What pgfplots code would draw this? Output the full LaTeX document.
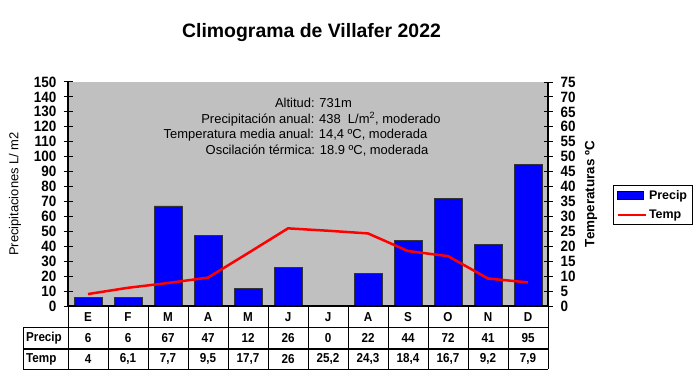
\documentclass[border=0pt]{standalone}
\usepackage{fontspec}
\setmainfont{Liberation Sans}
\newfontfamily\narrow[FakeStretch=0.9]{Liberation Sans}
\usepackage{pgfplots}
\pgfplotsset{compat=1.18}
\definecolor{bggray}{RGB}{192,192,192}
\begin{document}
\begin{tikzpicture}[x=1bp,y=1bp]
\useasboundingbox (0,0) rectangle (700,386);
\begin{axis}[
  at={(68bp,80bp)}, anchor=south west,
  scale only axis, width=480bp, height=224bp,
  xmin=-0.5, xmax=11.5, ymin=0, ymax=150,
  axis y line*=left, axis x line*=bottom,
  xtick=\empty,
  ytick={0,10,...,150},
  tick align=center, major tick length=9bp,
  every tick/.style={black, line width=1bp},
  axis line style={black, line width=1.2bp},
  axis background/.style={fill=bggray},
  /pgf/number format/assume math mode=true,
  yticklabel style={font=\narrow\fontsize{15}{15}\selectfont\bfseries, inner sep=0pt, xshift=-7bp},
  ylabel={Precipitaciones L/ m2},
  every axis y label/.style={at={(axis description cs:0,0.5)}, xshift=-53bp, rotate=90, anchor=center, font=\fontsize{13}{13}\selectfont},
  clip=false,
]
\addplot[ybar, bar width=0.7, fill=blue, draw=black!80, line width=0.8bp] coordinates {(0,6)(1,6)(2,67)(3,47)(4,12)(5,26)(6,0)(7,22)(8,44)(9,72)(10,41)(11,95)};
\end{axis}
\begin{axis}[
  at={(68bp,80bp)}, anchor=south west,
  scale only axis, width=480bp, height=224bp,
  xmin=-0.5, xmax=11.5, ymin=0, ymax=75,
  axis y line*=right, axis x line=none,
  ytick={0,5,...,75},
  tick align=center, major tick length=9bp,
  every tick/.style={black, line width=1bp},
  axis line style={black, line width=1.2bp},
  /pgf/number format/assume math mode=true,
  yticklabel style={font=\narrow\fontsize{15}{15}\selectfont\bfseries, inner sep=0pt, xshift=8bp},
  ylabel={Temperaturas ºC},
  every axis y label/.style={at={(axis description cs:1,0.5)}, xshift=43bp, rotate=90, anchor=center, font=\fontsize{13.5}{13.5}\selectfont\bfseries},
  legend style={at={(1.1354,0.4509)}, anchor=west, draw=black, line width=1bp, fill=white,
    font=\fontsize{12.5}{12.5}\selectfont\bfseries, inner xsep=3bp, inner ysep=3bp, row sep=5bp,
    cells={anchor=west}},
  clip=false,
]
\addlegendimage{legend image code/.code={\draw[fill=blue,draw=black,line width=0.6bp] (0bp,-4bp) rectangle (26bp,4bp);}}
\addlegendentry{Precip}
\addplot[red, line width=2.5bp, mark=none, legend image code/.code={\draw[red,line width=2.5bp] (0bp,0bp) -- (28bp,0bp);}] coordinates {(0,4)(1,6.1)(2,7.7)(3,9.5)(4,17.7)(5,26)(6,25.2)(7,24.3)(8,18.4)(9,16.7)(10,9.2)(11,7.9)};
\addlegendentry{Temp}
\end{axis}
% title and annotation
\node[font=\fontsize{19.5}{19.5}\selectfont\bfseries] at (311.5,353) {Climograma de Villafer 2022};
\begin{scope}[every node/.style={font=\fontsize{13}{13}\selectfont, inner sep=0pt}]
\node at (313.5,282.7) {Altitud: 731m};
\node at (321,266.7) {Precipitación anual: 438\ \ L/m\textsuperscript{2}, moderado};
\node at (295.5,251) {Temperatura media anual: 14,4 ºC, moderada};
\node at (317,235.3) {Oscilación térmica: 18.9 ºC, moderada};
\end{scope}
% table
\draw[line width=1.5bp] (68,80) -- (548,80);
\foreach \y in {58.3,37,16.7} \draw[line width=1.5bp] (23,\y) -- (548,\y);
\draw[line width=1bp] (23,58.3) -- (23,16.7);
\foreach \k in {0,...,12} \draw[line width=1bp] ({68+40*\k},80) -- ({68+40*\k},16.7);
\begin{scope}[every node/.style={font=\narrow\fontsize{13}{13}\selectfont\bfseries, inner sep=0pt}]
\foreach \m [count=\i from 0] in {E,F,M,A,M,J,J,A,S,O,N,D} \node at ({88+40*\i},69.2) {\m};
\foreach \v [count=\i from 0] in {6,6,67,47,12,26,0,22,44,72,41,95} \node at ({88+40*\i},47.7) {\v};
\foreach \v [count=\i from 0] in {4,{6,1},{7,7},{9,5},{17,7},26,{25,2},{24,3},{18,4},{16,7},{9,2},{7,9}} \node at ({88+40*\i},26.8) {\v};
\node[anchor=west] at (26,47.7) {Precip};
\node[anchor=west] at (26,26.8) {Temp};
\end{scope}
\end{tikzpicture}
\end{document}
